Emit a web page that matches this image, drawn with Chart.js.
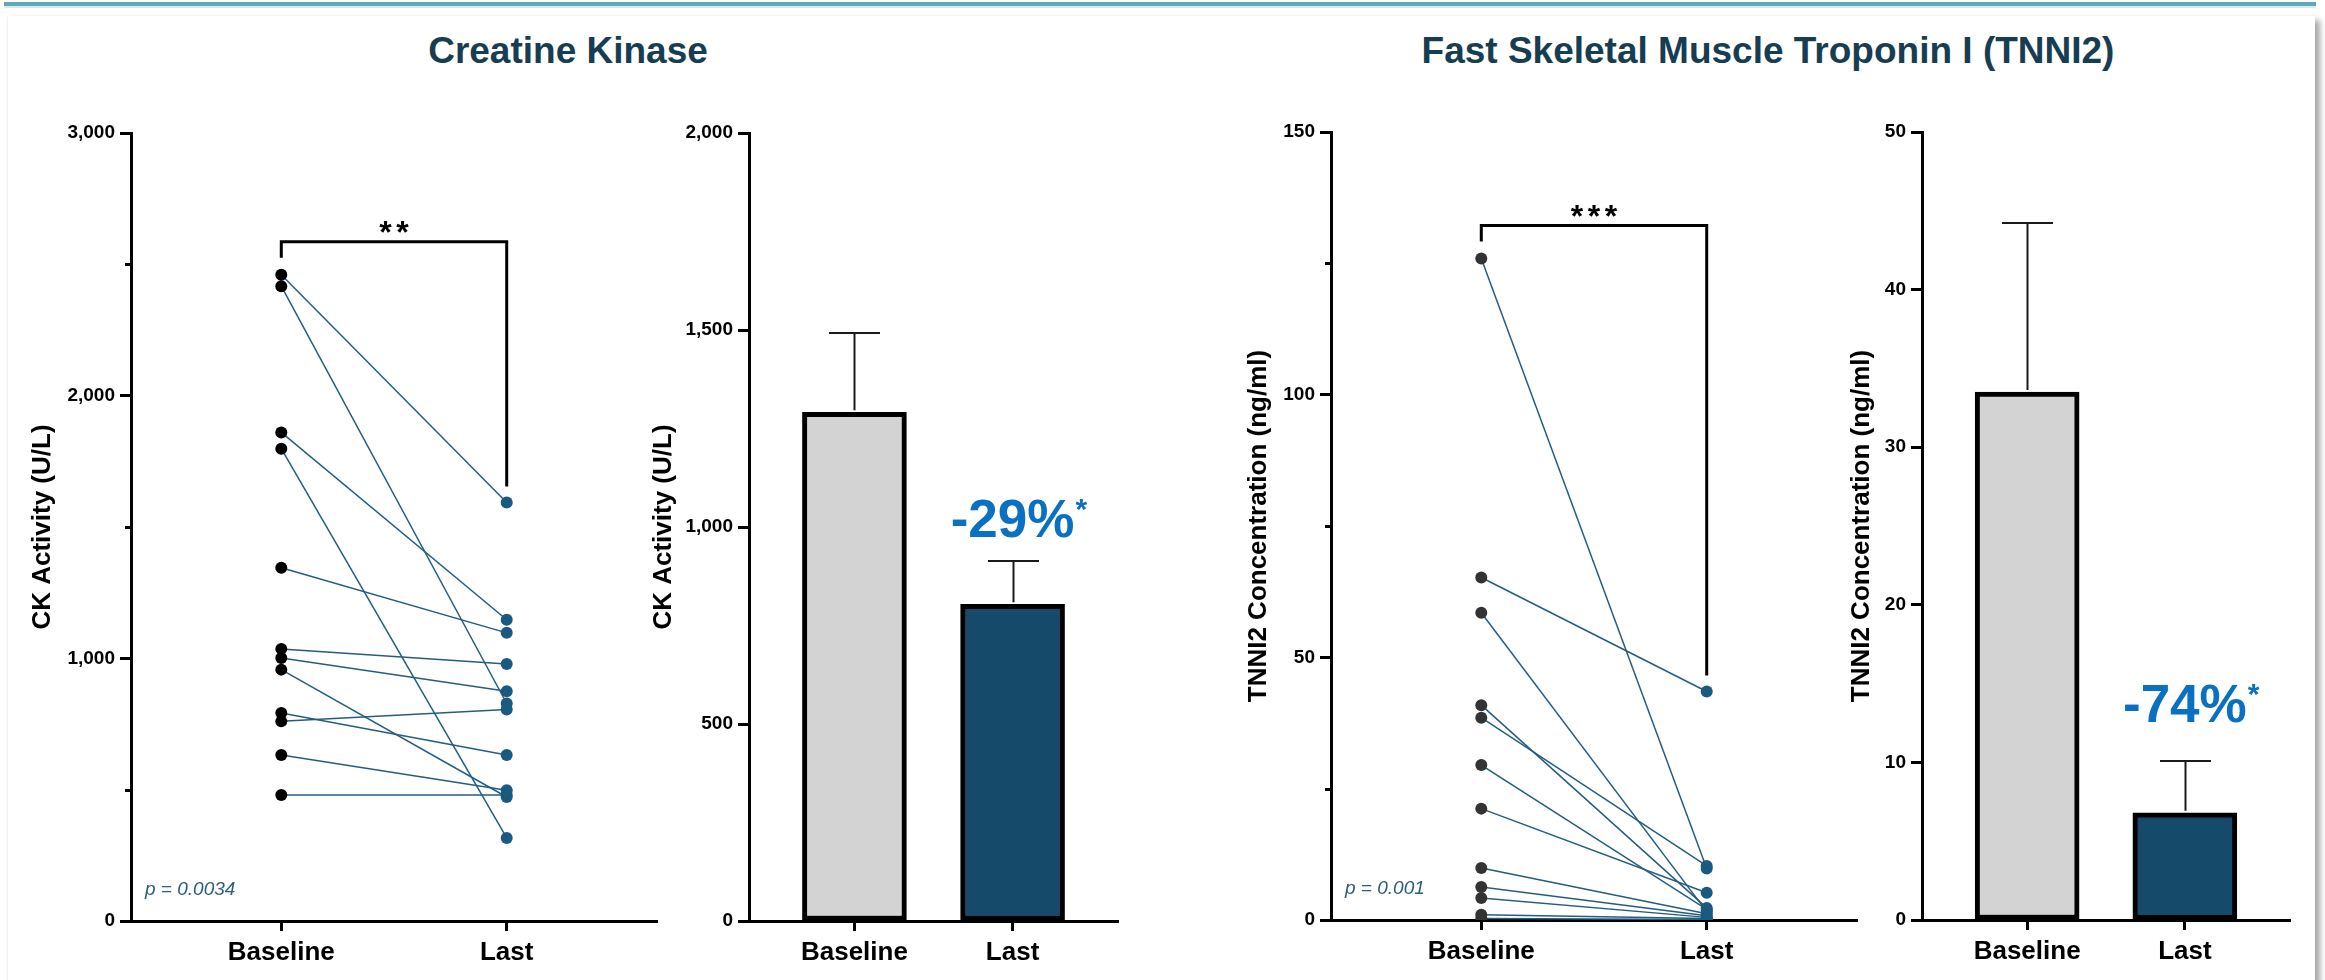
<!DOCTYPE html>
<html>
<head>
<meta charset="utf-8">
<script src="https://cdn.jsdelivr.net/npm/chart.js@4.4.1/dist/chart.umd.min.js"></script>
<style>
  html, body { margin: 0; padding: 0; background: #fff; }
  #page { position: relative; width: 2325px; height: 980px; overflow: hidden; background: #fff; }
  .card { position: absolute; left: 8px; top: 16px; width: 2307px; height: 990px; background: #fff;
          box-shadow: 5px 4px 6px rgba(0,0,0,0.35), -1px 0 2px rgba(0,0,0,0.06); }
  .topbar { position: absolute; left: 4px; top: 2px; width: 2312px; height: 4px; background: #5fa9b6; }
  .topbar2 { position: absolute; left: 4px; top: 6px; width: 2312px; height: 2px; background: #d6ecef; }
  h2 { position: absolute; top: 30px; margin: 0; line-height: 37px; white-space: nowrap;
       font: bold 37px "Liberation Sans", Arial, sans-serif; color: #173d52; transform: translateX(-50%); }
  canvas { position: absolute; top: 100px; }
</style>
</head>
<body>
<div id="page">
  <div class="card"></div>
  <div class="topbar"></div>
  <div class="topbar2"></div>
  <h2 style="left:568px">Creatine Kinase</h2>
  <h2 style="left:1768px">Fast Skeletal Muscle Troponin I (TNNI2)</h2>
  <canvas id="ckPaired" width="680" height="880" style="left:0px"></canvas>
  <canvas id="ckBars" width="520" height="880" style="left:620px"></canvas>
  <canvas id="tnPaired" width="680" height="880" style="left:1200px"></canvas>
  <canvas id="tnBars" width="520" height="880" style="left:1790px"></canvas>
</div>
<script>
// Time points
const groups = ['Baseline', 'Last'];

// Creatine kinase activity (U/L), one entry per subject
const ckBaseline = [2460, 2417, 1860, 1798, 1345, 1036, 1001, 957, 792, 760, 632, 480];
const ckLast     = [1593,  828, 1147,  316, 1097,  978,  875, 472, 632, 805, 498, 480];
const ckMean = [1291, 804];
const ckSem  = [202, 110];

// TNNI2 concentration (ng/ml), one entry per subject
const tnBaseline = [125.9, 65.2, 58.5, 40.9, 38.5, 29.5, 21.2, 9.9, 6.3, 4.2, 1.0, 0.3];
const tnLast     = [  9.8, 43.5,  1.6,  2.3, 10.3,  2.0,  5.2, 1.2, 0.8, 0.5, 0.3, 0.1];
const tnMean = [33.5, 6.8];
const tnSem  = [10.7, 3.3];

const FONT = '"Liberation Sans", Arial, sans-serif';
const LINE_COLOR = '#245d80';
const LAST_DOT = '#1b5a80';
const BAR_FILLS = ['#d3d3d3', '#154a6b'];
const PCT_COLOR = '#0a70c2';

Chart.defaults.font.family = FONT;
Chart.defaults.animation = false;
Chart.defaults.plugins.legend.display = false;
Chart.defaults.plugins.tooltip.enabled = false;

function xAxis(axisHeight) {
  return {
    type: 'linear', min: -2 / 3, max: 5 / 3, offset: false,
    afterBuildTicks: s => { s.ticks = [{ value: 0 }, { value: 1 }]; },
    afterFit: s => { s.height = axisHeight; },
    ticks: { callback: v => groups[v], color: '#000', padding: 6, font: { size: 26, weight: 'bold' } },
    grid: { drawOnChartArea: false, drawTicks: true, tickLength: 10, tickWidth: 3, tickColor: '#000', offset: false },
    border: { display: true, width: 3, color: '#000' }
  };
}

function yAxis(max, step, title, width, titlePad) {
  return {
    type: 'linear', min: 0, max: max,
    afterFit: s => { s.width = width; },
    ticks: { stepSize: step, color: '#000', padding: 5, font: { size: 19, weight: 'bold' } },
    grid: { drawOnChartArea: false, drawTicks: true, tickLength: 11, tickWidth: 3, tickColor: '#000' },
    border: { display: true, width: 3, color: '#000' },
    title: { display: true, text: title, color: '#000', padding: { top: titlePad, bottom: 0 },
             font: { size: 26, weight: 'bold' } }
  };
}

// Short unlabeled ticks half-way between labeled ones
const minorTicks = {
  id: 'minorTicks',
  afterDraw(chart, args, opts) {
    if (!opts.values) return;
    const { ctx, scales: { y }, chartArea } = chart;
    ctx.save();
    ctx.strokeStyle = '#000';
    ctx.lineWidth = 3;
    opts.values.forEach(v => {
      const py = Math.round(y.getPixelForValue(v)) + 0.5;
      ctx.beginPath();
      ctx.moveTo(chartArea.left - 6, py);
      ctx.lineTo(chartArea.left, py);
      ctx.stroke();
    });
    ctx.restore();
  }
};

// Significance bracket above the paired points, plus p-value note
const pairedNotes = {
  id: 'pairedNotes',
  afterDraw(chart, args, opts) {
    if (!opts.stars) return;
    const { ctx, scales: { x, y }, chartArea } = chart;
    const x0 = x.getPixelForValue(0), x1 = x.getPixelForValue(1);
    const topBase = y.getPixelForValue(Math.max(...opts.base));
    const topLast = y.getPixelForValue(Math.max(...opts.last));
    const yBar = topBase - 33;
    ctx.save();
    ctx.strokeStyle = '#000';
    ctx.lineWidth = 3;
    ctx.lineJoin = 'miter';
    ctx.beginPath();
    ctx.moveTo(x0, topBase - 17);
    ctx.lineTo(x0, yBar);
    ctx.lineTo(x1, yBar);
    ctx.lineTo(x1, topLast - 16);
    ctx.stroke();

    ctx.fillStyle = '#000';
    ctx.font = 'bold 32px ' + FONT;
    ctx.textAlign = 'center';
    ctx.textBaseline = 'alphabetic';
    const n = opts.stars, step = 17, mid = (x0 + x1) / 2;
    for (let i = 0; i < n; i++) {
      ctx.fillText('*', mid + (i - (n - 1) / 2) * step, yBar + 1);
    }

    ctx.fillStyle = '#2e5d7c';
    ctx.font = 'italic 19px ' + FONT;
    ctx.textAlign = 'left';
    ctx.fillText(opts.pText, chartArea.left + 14, chartArea.bottom - 26);
    ctx.restore();
  }
};

// Error bars (mean + SEM) and the percent-change label over the second bar
const barNotes = {
  id: 'barNotes',
  afterDatasetsDraw(chart, args, opts) {
    if (!opts.sem) return;
    const { ctx, scales: { x, y } } = chart;
    ctx.save();
    ctx.strokeStyle = '#1a1a1a';
    ctx.lineWidth = 2;
    opts.mean.forEach((m, i) => {
      const px = Math.round(x.getPixelForValue(i)) + 0.5;
      const pBar = y.getPixelForValue(m);
      const pTop = Math.round(y.getPixelForValue(m + opts.sem[i]));
      ctx.beginPath();
      ctx.moveTo(px, pBar - 2);
      ctx.lineTo(px, pTop);
      ctx.moveTo(px - 25.5, pTop);
      ctx.lineTo(px + 25.5, pTop);
      ctx.stroke();
    });
    const i = 1;
    const cx = x.getPixelForValue(i);
    const base = y.getPixelForValue(opts.mean[i] + opts.sem[i]) - opts.gap;
    ctx.fillStyle = PCT_COLOR;
    ctx.font = 'bold 53px ' + FONT;
    ctx.textAlign = 'center';
    ctx.textBaseline = 'alphabetic';
    ctx.fillText(opts.label, cx, base);
    const w = ctx.measureText(opts.label).width;
    ctx.font = 'bold 30px ' + FONT;
    ctx.textAlign = 'left';
    ctx.fillText('*', cx + w / 2 + 1, base - 18);
    ctx.restore();
  }
};

Chart.register(minorTicks, pairedNotes, barNotes);

function pairedChart(id, base, last, cfg) {
  const lines = base.map((b, i) => ({
    type: 'line', order: 1,
    data: [{ x: 0, y: b }, { x: 1, y: last[i] }],
    borderColor: LINE_COLOR, borderWidth: 1.5, pointRadius: 0, fill: false
  }));
  const dots = [
    { type: 'scatter', order: 0, data: base.map(v => ({ x: 0, y: v })),
      pointRadius: 6, pointBackgroundColor: cfg.baseDot, pointBorderWidth: 0 },
    { type: 'scatter', order: 0, data: last.map(v => ({ x: 1, y: v })),
      pointRadius: 6, pointBackgroundColor: LAST_DOT, pointBorderWidth: 0 }
  ];
  return new Chart(document.getElementById(id), {
    data: { datasets: dots.concat(lines) },
    options: {
      responsive: false, devicePixelRatio: 1,
      layout: { padding: { top: cfg.top, right: cfg.right, left: 0, bottom: 0 } },
      scales: { x: xAxis(cfg.xh), y: yAxis(cfg.max, cfg.step, cfg.title, cfg.yw, cfg.titlePad) },
      plugins: {
        minorTicks: { values: cfg.minor },
        pairedNotes: { base: base, last: last, stars: cfg.stars, pText: cfg.pText }
      }
    }
  });
}

function barChart(id, mean, sem, cfg) {
  return new Chart(document.getElementById(id), {
    type: 'bar',
    data: {
      datasets: [{
        data: mean.map((m, i) => ({ x: i, y: m })),
        backgroundColor: BAR_FILLS, borderColor: '#000', borderWidth: 5,
        borderSkipped: false, barThickness: 104
      }]
    },
    options: {
      responsive: false, devicePixelRatio: 1,
      layout: { padding: { top: cfg.top, right: cfg.right, left: 0, bottom: 0 } },
      scales: { x: xAxis(cfg.xh), y: yAxis(cfg.max, cfg.step, cfg.title, cfg.yw, cfg.titlePad) },
      plugins: { barNotes: { mean: mean, sem: sem, label: cfg.label, gap: cfg.gap } }
    }
  });
}

pairedChart('ckPaired', ckBaseline, ckLast, {
  top: 33, right: 23, xh: 59, yw: 131, titlePad: 27, max: 3000, step: 1000,
  minor: [500, 1500, 2500], title: 'CK Activity (U/L)', baseDot: '#000',
  stars: 2, pText: 'p = 0.0034'
});
barChart('ckBars', ckMean, ckSem, {
  top: 33, right: 22, xh: 59, yw: 129, titlePad: 28, max: 2000, step: 500,
  title: 'CK Activity (U/L)', label: '-29%', gap: 24
});
pairedChart('tnPaired', tnBaseline, tnLast, {
  top: 32, right: 23, xh: 60, yw: 131, titlePad: 43, max: 150, step: 50,
  minor: [25, 75, 125], title: 'TNNI2 Concentration (ng/ml)', baseDot: '#333',
  stars: 3, pText: 'p = 0.001'
});
barChart('tnBars', tnMean, tnSem, {
  top: 32, right: 20, xh: 60, yw: 132, titlePad: 56, max: 50, step: 10,
  title: 'TNNI2 Concentration (ng/ml)', label: '-74%', gap: 39
});
</script>
</body>
</html>
